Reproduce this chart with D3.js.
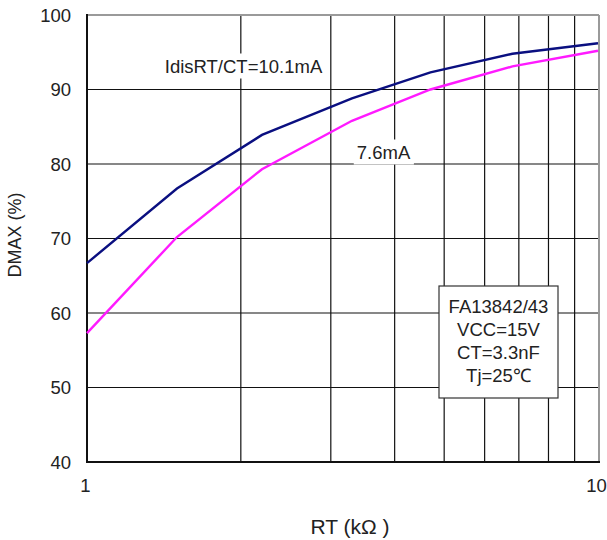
<!DOCTYPE html>
<html><head><meta charset="utf-8">
<script src="https://cdn.jsdelivr.net/npm/d3@7"></script>
<style>body{margin:0;background:#fff}svg{display:block}text{font-family:"Liberation Sans",Arial,sans-serif;fill:#222}</style>
</head><body><svg id="c" width="607" height="540"></svg>
<script>
const rtValues = [1, 1.5, 2.2, 3.3, 4.7, 6.8, 10];
const dmax101 = [66.7, 76.7, 83.9, 88.8, 92.3, 94.8, 96.2];
const dmax76 = [57.3, 70.2, 79.3, 85.8, 90.0, 93.1, 95.2];
const xTickValues = [1, 10];
const xGridValues = [2, 3, 4, 5, 6, 7, 8, 9];
const yTickValues = [40, 50, 60, 70, 80, 90, 100];
const seriesLabels = ["IdisRT/CT=10.1mA", "7.6mA"];
const infoLines = ["FA13842/43", "VCC=15V", "CT=3.3nF", "Tj=25\u2103"];

const svg = d3.select("#c");
const L = 87, R = 598, T = 15, B = 462;
const x = d3.scaleLog().domain([1, 10]).range([L, R]);
const y = d3.scaleLinear().domain([40, 100]).range([B, T]);
const FS = "18.5px";

// grid
svg.append("g").selectAll("line").data(yTickValues.filter(v => v > 40 && v < 100)).join("line")
  .attr("x1", L).attr("x2", R).attr("y1", d => y(d)).attr("y2", d => y(d))
  .attr("stroke", "#111").attr("stroke-width", 1.2);
svg.append("g").selectAll("line").data(xGridValues).join("line")
  .attr("x1", d => x(d)).attr("x2", d => x(d)).attr("y1", T).attr("y2", B)
  .attr("stroke", "#111").attr("stroke-width", 1.2);

// frame
svg.append("line").attr("x1", L).attr("x2", R + 1).attr("y1", T).attr("y2", T).attr("stroke", "#9a9a9a").attr("stroke-width", 2);
svg.append("line").attr("x1", R + 1).attr("x2", R + 1).attr("y1", T).attr("y2", B).attr("stroke", "#9a9a9a").attr("stroke-width", 2);
svg.append("line").attr("x1", L).attr("x2", L).attr("y1", T - 1).attr("y2", B + 1).attr("stroke", "#111").attr("stroke-width", 2);
svg.append("line").attr("x1", L - 1).attr("x2", R + 2).attr("y1", B).attr("y2", B).attr("stroke", "#111").attr("stroke-width", 2);

// curves
const line = d3.line().x((d, i) => x(rtValues[i])).y(d => y(d));
svg.append("path").datum(dmax101).attr("d", line).attr("fill", "none").attr("stroke", "#0a0f80").attr("stroke-width", 2.4);
svg.append("path").datum(dmax76).attr("d", line).attr("fill", "none").attr("stroke", "#ff1aff").attr("stroke-width", 2.4);

// series labels with white background
function label(txt, cx, by) {
  const g = svg.append("g");
  const t = g.append("text").attr("x", cx).attr("y", by).attr("text-anchor", "middle").style("font-size", FS).text(txt);
  const bb = t.node().getBBox();
  g.insert("rect", "text").attr("x", bb.x - 3).attr("y", bb.y - 2).attr("width", bb.width + 6).attr("height", bb.height + 4).attr("fill", "#fff");
}
label(seriesLabels[0], 243.5, 72.5);
label(seriesLabels[1], 383.5, 158.5);

// info box
const bx = 439, by0 = 286, bw = 119, bh = 112;
svg.append("rect").attr("x", bx).attr("y", by0).attr("width", bw).attr("height", bh).attr("fill", "#fff").attr("stroke", "#333").attr("stroke-width", 1.2);
svg.append("g").selectAll("text").data(infoLines).join("text")
  .attr("x", bx + bw / 2).attr("y", (d, i) => 312.5 + i * 23).attr("text-anchor", "middle").style("font-size", FS).text(d => d);

// axes tick labels
svg.append("g").selectAll("text").data(yTickValues).join("text")
  .attr("x", 71).attr("y", d => y(d) + 6.5).attr("text-anchor", "end").style("font-size", FS).text(d => d);
svg.append("g").selectAll("text").data(xTickValues).join("text")
  .attr("x", d => x(d) - 1.5).attr("y", 491.5).attr("text-anchor", "middle").style("font-size", FS).text(d => d);

// axis titles
svg.append("text").attr("x", 350).attr("y", 534).attr("text-anchor", "middle").style("font-size", "21px").text("RT (k\u03A9 )");
svg.append("text").attr("transform", "translate(21,235) rotate(-90)").attr("text-anchor", "middle").style("font-size", "18px").text("DMAX (%)");
</script></body></html>
